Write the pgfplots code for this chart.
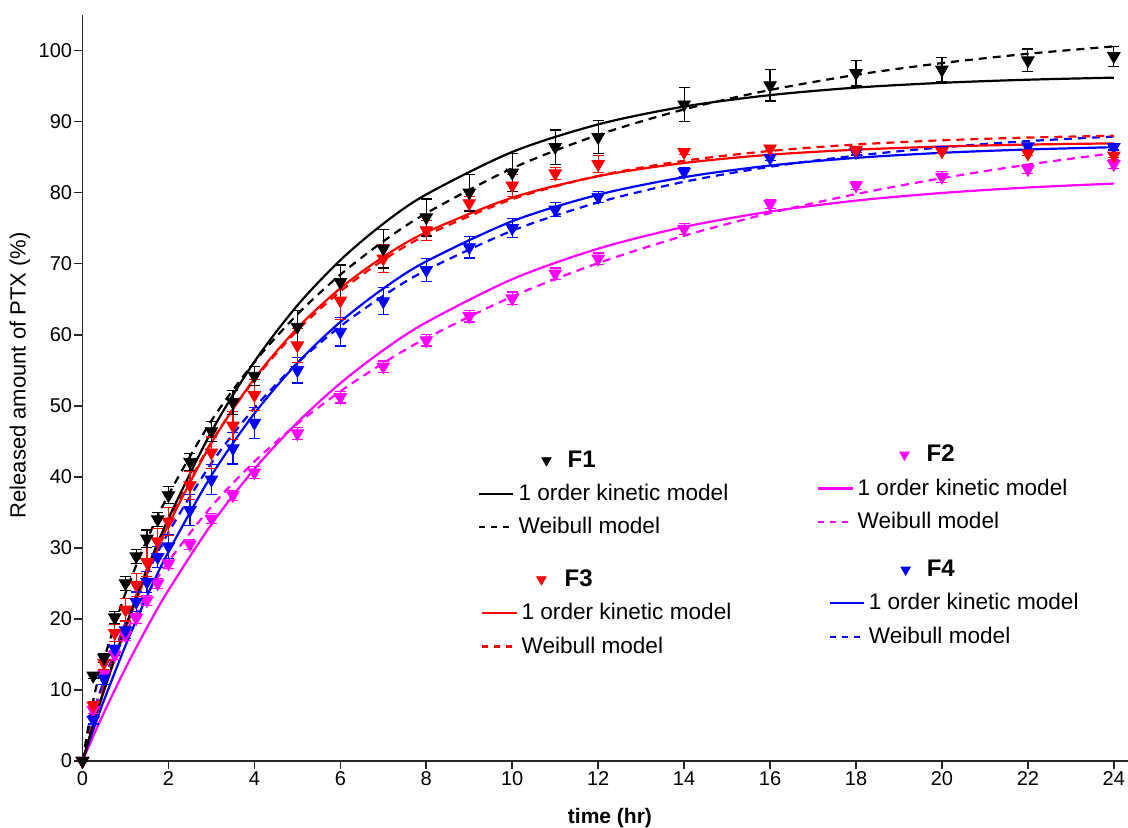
\documentclass[border=0pt]{standalone}
\usepackage{fontspec}
\setmainfont{Liberation Sans}
\usepackage{pgfplots}
\usepackage{pgfplotstable}
\pgfplotsset{compat=1.18}
\definecolor{mag}{RGB}{255,0,255}
\definecolor{rd}{RGB}{255,0,0}
\definecolor{bl}{RGB}{0,0,255}

\pgfplotstableread{
t    f1   e1   f2   e2   f3   e3   f4   e4
0    0    0    0    0    0    0    0    0
0.25 12.0 0.4  7.2  0.5  7.8  0.6  5.8  0.6
0.5  14.5 0.6  12.2 0.6  13.8 1.0  11.6 0.8
0.75 20.2 0.8  14.9 0.6  18.0 1.2  15.8 1.0
1    25.0 1.0  17.7 0.7  21.3 1.6  18.4 1.2
1.25 28.8 1.0  20.1 0.7  24.8 1.6  22.4 1.4
1.5  31.3 1.2  22.6 0.7  28.0 2.0  25.2 1.5
1.75 34.0 1.0  25.0 0.7  30.9 1.8  28.7 1.5
2    37.4 1.2  27.8 0.7  33.7 2.0  30.2 1.7
2.5  42.1 1.2  30.5 0.7  38.8 2.0  35.3 2.2
3    46.4 1.4  34.1 0.7  43.4 2.2  39.6 2.1
3.5  50.5 1.7  37.4 0.7  47.2 2.0  44.0 2.2
4    54.2 1.3  40.6 0.8  51.5 2.2  47.6 2.2
5    61.1 2.3  46.1 0.8  58.5 2.4  55.0 1.8
6    67.4 2.4  51.2 0.8  64.8 2.7  60.4 2.0
7    72.1 2.7  55.5 0.8  70.7 2.0  64.7 1.9
8    76.5 2.6  59.2 0.8  74.7 1.4  69.1 1.6
9    80.0 2.6  62.6 0.8  78.5 1.0  72.3 1.5
10   82.8 2.7  65.1 0.9  81.0 1.5  75.0 1.3
11   86.4 2.4  68.6 0.8  82.7 0.8  77.6 1.0
12   87.8 2.3  70.7 0.8  84.0 1.2  79.4 0.8
14   92.4 2.4  74.9 0.8  85.7 0.3  82.9 0.6
16   95.1 2.2  78.4 0.6  86.2 0.3  84.9 0.4
18   96.8 1.8  81.0 0.6  86.0 0.3  85.7 0.4
20   97.3 1.7  82.2 0.8  85.8 0.3  86.0 0.4
22   98.6 1.6  83.3 0.6  85.5 0.3  86.5 0.4
24   99.2 1.4  84.0 0.6  85.2 0.3  86.4 0.4
}\datatab

\pgfplotstableread{
t     s1     w1     s2     w2     s3     w3     s4     w4
0     0      0      0      0      0      0      0      0
0.25  5.13   8.55   3.48   6.88   5.08   5.62   4.38   6.40
0.5   9.97   14.36  6.81   11.21  9.86   10.59  8.54   11.29
1     18.90  23.63  13.05  17.97  18.61  19.39  16.23  19.45
1.5   26.93  31.12  18.78  23.41  26.36  27.04  23.18  26.27
2     34.12  37.47  24.04  28.07  33.24  33.74  29.43  32.16
3     46.36  47.89  33.30  35.82  44.75  44.89  40.18  41.92
4     56.20  56.14  41.09  42.14  53.81  53.66  48.91  49.69
5     64.12  62.86  47.64  47.46  60.93  60.59  56.02  56.00
6     70.49  68.45  53.17  52.02  66.54  66.10  61.80  61.17
7     75.62  73.13  57.82  56.00  70.95  70.50  66.50  65.47
8     79.74  77.10  61.73  59.50  74.42  74.00  70.32  69.08
10    85.72  83.42  67.81  65.37  79.29  79.07  75.97  74.64
12    89.60  88.12  72.11  70.08  82.31  82.35  79.70  78.62
14    92.11  91.71  75.17  73.93  84.17  84.48  82.17  81.52
16    93.72  94.44  77.33  77.12  85.33  85.86  83.81  83.64
18    94.78  96.57  78.87  79.79  86.04  86.77  84.89  85.20
20    95.45  98.23  79.95  82.03  86.48  87.36  85.60  86.37
22    95.89  99.54  80.72  83.94  86.76  87.75  86.07  87.25
24    96.18  100.58 81.27  85.56  86.93  88.00  86.39  87.89
}\fittab

\pgfplotsset{
  base/.style={scale only axis, width=522.75pt, height=373pt,
    xmin=0, xmax=24.33, ymin=0, ymax=105, at={(0,0)}, anchor=south west},
  dat/.style={only marks, mark=triangle*, mark size=3.6pt, color=#1,
    mark options={rotate=180, fill=#1, draw=#1},
    error bars/y dir=both, error bars/y explicit,
    error bars/error mark=-,
    error bars/error bar style={line width=0.6pt, #1},
    error bars/error mark options={rotate=90, mark size=2.75pt, line width=0.6pt, #1}},
  solidfit/.style={#1, line width=1.1pt, smooth},
  dashfit/.style={#1, line width=1.1pt, smooth, dash pattern=on 4pt off 3pt},
  leg/.style={base, hide axis, legend cell align=left,
    legend style={draw=none, fill=none, inner sep=0pt, row sep=3pt,
      font=\fontsize{11.3}{13}\selectfont, at={#1}, anchor=north west}},
}
% #1 colour, #2 label, #3 marker shift, #4 label shift
\newcommand{\legblock}[4]{%
  \addlegendimage{only marks, mark=triangle*, mark size=2.7pt, #1,
    mark options={xshift=#3, rotate=180, fill=#1, draw=#1, overlay}}
  \addlegendentry{\hspace*{#4}\fontsize{12}{14}\selectfont\bfseries #2}
  \addlegendimage{#1, line width=1.1pt}
  \addlegendentry{1 order kinetic model}
  \addlegendimage{#1, line width=1.1pt, dash pattern=on 3pt off 3pt}
  \addlegendentry{Weibull model}
}

\begin{document}
\begin{tikzpicture}
\path[use as bounding box] (-41.25pt,-33.5pt) rectangle (522.75pt,380.5pt);
\begin{axis}[base,
  axis lines*=left, clip=false,
  axis line style={line width=0.9pt, black!85},
  tick align=outside, major tick length=4pt,
  tick style={line width=0.8pt, black!85},
  xtick={0,2,...,24}, ytick={0,10,...,100},
  tick label style={font=\fontsize{10}{12}\selectfont, inner sep=1pt},
  /pgf/number format/assume math mode=true,
  every axis x label/.style={at={(axis description cs:0.5045,-0.0764)}, anchor=center},
  every axis y label/.style={at={(axis description cs:-0.0598,0.517)}, rotate=90, anchor=center},
  xlabel={\fontsize{10.5}{12}\selectfont\bfseries time (hr)},
  ylabel={\fontsize{11}{13}\selectfont Released amount of PTX (\%)},
]
\addplot[solidfit=mag] table[x=t, y=s2] {\fittab};
\addplot[dashfit=mag]  table[x=t, y=w2] {\fittab};
\addplot[solidfit=bl]  table[x=t, y=s4] {\fittab};
\addplot[dashfit=bl]   table[x=t, y=w4] {\fittab};
\addplot[solidfit=rd]  table[x=t, y=s3] {\fittab};
\addplot[dashfit=rd]   table[x=t, y=w3] {\fittab};
\addplot[solidfit=black] table[x=t, y=s1] {\fittab};
\addplot[dashfit=black]  table[x=t, y=w1] {\fittab};
\addplot[dat=mag]   table[x=t, y=f2, y error=e2] {\datatab};
\addplot[dat=bl]    table[x=t, y=f4, y error=e4] {\datatab};
\addplot[dat=rd]    table[x=t, y=f3, y error=e3] {\datatab};
\addplot[dat=black] table[x=t, y=f1, y error=e1] {\datatab};
\end{axis}
\begin{axis}[leg={(axis cs:9.20,44.3)}]
\legblock{black}{F1}{25pt}{24.5pt}
\end{axis}
\begin{axis}[leg={(axis cs:17.09,45.1)}]
\legblock{mag}{F2}{34.5pt}{34.5pt}
\end{axis}
\begin{axis}[leg={(axis cs:9.27,27.55)}]
\legblock{rd}{F3}{21pt}{21.5pt}
\end{axis}
\begin{axis}[leg={(axis cs:17.35,28.9)}]
\legblock{bl}{F4}{29.5pt}{29pt}
\end{axis}
\end{tikzpicture}
\end{document}
